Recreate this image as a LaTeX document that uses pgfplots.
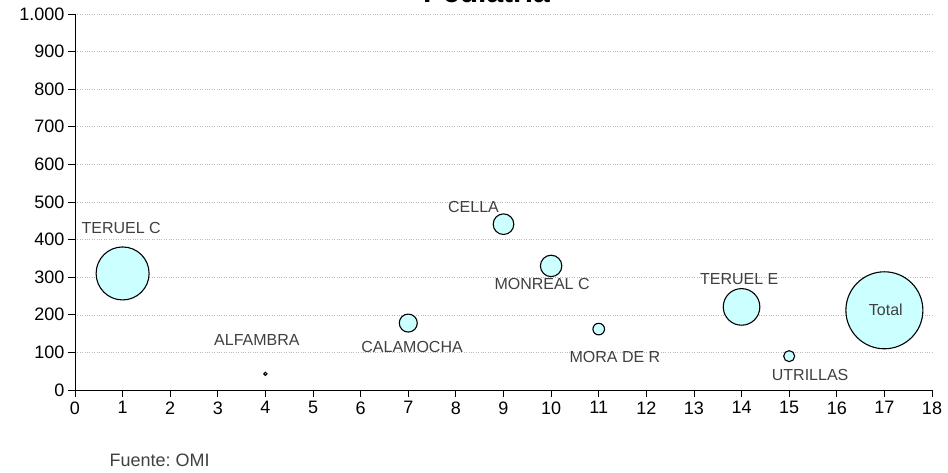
\documentclass[border=0pt]{standalone}
\usepackage{pgfplots}
\pgfplotsset{compat=1.18}
\usepackage{fontspec}
\setmainfont{Liberation Sans}
\frenchspacing
\definecolor{bub}{HTML}{CCFFFF}
\definecolor{lab}{HTML}{404040}
\pgfplotstableread{
x y r
1 310 26.5
4 43 1.6
7 178 9
9 441 10.3
10 330 10.7
11 162 5.8
14 221 18.3
15 90 5.5
17 212 38.5
}\bubbles
\begin{document}
\begin{tikzpicture}
\begin{axis}[
  at={(0,0)}, anchor=south west,
  set layers,
  scale only axis, width=857pt, height=376pt,
  xmin=0, xmax=18, ymin=0, ymax=1000,
  xtick={0,1,...,18}, ytick={0,100,...,1000},
  axis x line*=bottom, axis y line*=left,
  axis line style={black, line width=1pt},
  tick style={black, line width=0.9pt},
  tick align=outside, major tick length=7pt,
  ymajorgrids, grid style={gray!55, dotted, line width=0.6pt},
  ticklabel style={font=\fontsize{18}{21}\selectfont},
  xticklabel style={yshift=-1pt},
  clip=false,
  /pgf/number format/1000 sep={.},
  /pgf/number format/assume math mode=true,
]
\addplot[scatter, only marks, mark=*,
  scatter/use mapped color={draw=black, fill=bub},
  visualization depends on={\thisrow{r} \as \perpointmarksize},
  scatter/@pre marker code/.append style={/tikz/mark size=\perpointmarksize},
  mark options={line width=1.1pt}] table[x=x, y=y] {\bubbles};
\begin{pgfonlayer}{axis foreground}
\begin{scope}[every node/.style={text=lab, font=\fontsize{16}{19}\selectfont}]
\node at (axis cs:0.97,431) {TERUEL C};
\node at (axis cs:3.82,133) {ALFAMBRA};
\node at (axis cs:7.08,114) {CALAMOCHA};
\node at (axis cs:8.37,488) {CELLA};
\node at (axis cs:9.81,281) {MONREAL C};
\node at (axis cs:11.34,88) {MORA DE R};
\node at (axis cs:13.95,294) {TERUEL E};
\node at (axis cs:15.44,40) {UTRILLAS};
\node at (axis cs:17.03,213) {Total};
\end{scope}
\end{pgfonlayer}
\end{axis}
\begin{scope}
\clip (-75pt,-82pt) rectangle (873pt,390pt);
\node[anchor=base, font=\bfseries\fontsize{30}{34}\selectfont] at (411.5pt,387pt) {Pediatría};
\end{scope}
\node[anchor=base west, text=lab, font=\fontsize{18}{21}\selectfont] at (31pt,-76pt) {Fuente: OMI};
\pgfresetboundingbox
\useasboundingbox (-75pt,-82pt) rectangle (873pt,390pt);
\end{tikzpicture}
\end{document}
